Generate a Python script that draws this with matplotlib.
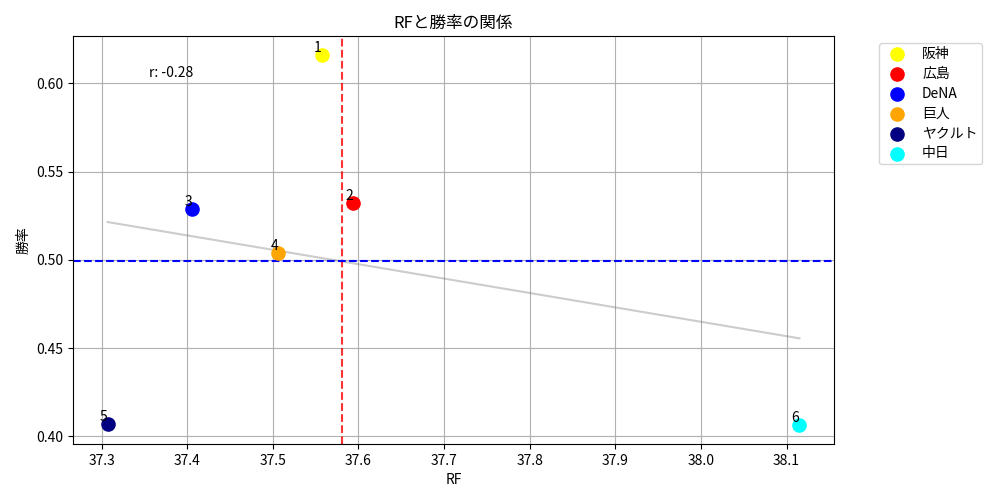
import numpy as np
import matplotlib
matplotlib.use("Agg")
import matplotlib.pyplot as plt

plt.rcParams['font.family'] = ['Noto Sans CJK JP', 'DejaVu Sans']

teams = ["阪神", "広島", "DeNA", "巨人", "ヤクルト", "中日"]
colors = ["yellow", "red", "blue", "orange", "navy", "cyan"]
rf = [37.557, 37.594, 37.406, 37.506, 37.307, 38.115]
win_rate = [0.6164, 0.5322, 0.5288, 0.504, 0.4073, 0.4062]
ranks = [1, 2, 3, 4, 5, 6]

x = np.array(rf)
y = np.array(win_rate)

fig, ax = plt.subplots(figsize=(10, 5), dpi=100)

for team, c, xi, yi, rk in zip(teams, colors, rf, win_rate, ranks):
    ax.scatter(xi, yi, color=c, s=90, label=team, zorder=3)
    ax.text(xi, yi, str(rk), ha="right", va="bottom", fontsize=10)

# regression line
a, b = np.polyfit(x, y, 1)
xs = np.array([x.min(), x.max()])
ax.plot(xs, a * xs + b, color="gray", alpha=0.4)

r = np.corrcoef(x, y)[0, 1]
ax.text(0.1, 0.9, f"r: {r:.2f}", transform=ax.transAxes)

ax.axvline(x.mean(), color="red", linestyle="--", alpha=0.8)
ax.axhline(y.mean(), color="blue", linestyle="--")

ax.set_title("RFと勝率の関係")
ax.set_xlabel("RF")
ax.set_ylabel("勝率")
ax.grid(True)
ax.legend(bbox_to_anchor=(1.05, 1), loc="upper left", labelspacing=0.42, borderpad=0.3)

plt.subplots_adjust(left=0.073, right=0.834, top=0.928, bottom=0.112)
plt.savefig("out.png")
